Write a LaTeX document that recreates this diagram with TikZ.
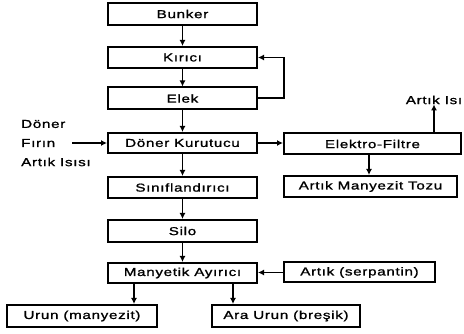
\documentclass[tikz,border=0pt]{standalone}
\usepackage{fontspec}
\newfontfamily\diagfont[FakeStretch=1.32,LetterSpace=6,FakeBold=1.2]{Liberation Sans}
\usetikzlibrary{arrows.meta}
\begin{document}
\begin{tikzpicture}[x=1pt,y=-1pt,
  box/.style={draw,line width=2pt,rectangle,inner sep=0pt,font=\diagfont\fontsize{11.5}{13}\selectfont},
  lbl/.style={inner sep=0pt,font=\diagfont\fontsize{11.5}{13}\selectfont},
  conn/.style={line width=1.6pt,-{Latex[length=6pt,width=6pt]}}]
\useasboundingbox (0,0) rectangle (464,334);
\node[box,minimum width=149pt,minimum height=22pt] (bunker) at (182.5,14) {Bunker};
\node[box,minimum width=149pt,minimum height=21pt] (kirici) at (182.5,57.5) {Kırıcı};
\node[box,minimum width=149pt,minimum height=22pt] (elek) at (182.5,98.5) {Elek};
\node[box,minimum width=149pt,minimum height=20pt] (kurutucu) at (182.5,143) {Döner Kurutucu};
\node[box,minimum width=149pt,minimum height=21pt] (sinif) at (182.5,187.5) {Sınıflandırıcı};
\node[box,minimum width=149pt,minimum height=22pt] (silo) at (182.5,231) {Silo};
\node[box,minimum width=149pt,minimum height=20pt] (ayirici) at (182.5,273) {Manyetik Ayırıcı};
\node[box,minimum width=150pt,minimum height=22pt] (urun) at (82,316) {Urun (manyezit)};
\node[box,minimum width=148pt,minimum height=22pt] (araurun) at (286,316) {Ara Urun (breşik)};
\node[box,minimum width=151pt,minimum height=20pt] (serp) at (359.5,272.5) {Artık (serpantin)};
\node[box,minimum width=177pt,minimum height=21pt] (filtre) at (372.5,144) {Elektro-Filtre};
\node[box,minimum width=173pt,minimum height=21pt] (tozu) at (370.5,186.5) {Artık Manyezit Tozu};
\node[lbl] (isi) at (434,100) {Artık Isı};
\node[lbl,anchor=west] (doner) at (21,124) {Döner};
\node[lbl,anchor=west] (firin) at (21,143) {Fırın};
\node[lbl,anchor=west] (atik) at (21,162) {Artık Isısı};
\coordinate (fin) at (72,143);
\coordinate (loopA) at (284,98);
\coordinate (loopB) at (284,57.5);
\draw[conn] (bunker) -- (kirici);
\draw[conn] (kirici) -- (elek);
\draw[conn] (elek) -- (kurutucu);
\draw[conn] (kurutucu) -- (sinif);
\draw[conn] (sinif) -- (silo);
\draw[conn] (silo) -- (ayirici);
\draw[conn] (elek.east |- loopA) -- (loopA) -- (loopB) -- (kirici.east);
\draw[conn] (fin) -- (kurutucu.west);
\draw[conn] (kurutucu.east) -- (filtre.west |- kurutucu.east);
\draw[conn] (filtre.north -| isi) -- (isi.south);
\draw[conn] (filtre.south -| 369,0) -- (tozu.north -| 369,0);
\draw[conn] (serp.west) -- (ayirici.east |- serp.west);
\draw[conn] (ayirici.south -| 134,0) -- (urun.north -| 134,0);
\draw[conn] (ayirici.south -| 233,0) -- (araurun.north -| 233,0);
\end{tikzpicture}
\end{document}
